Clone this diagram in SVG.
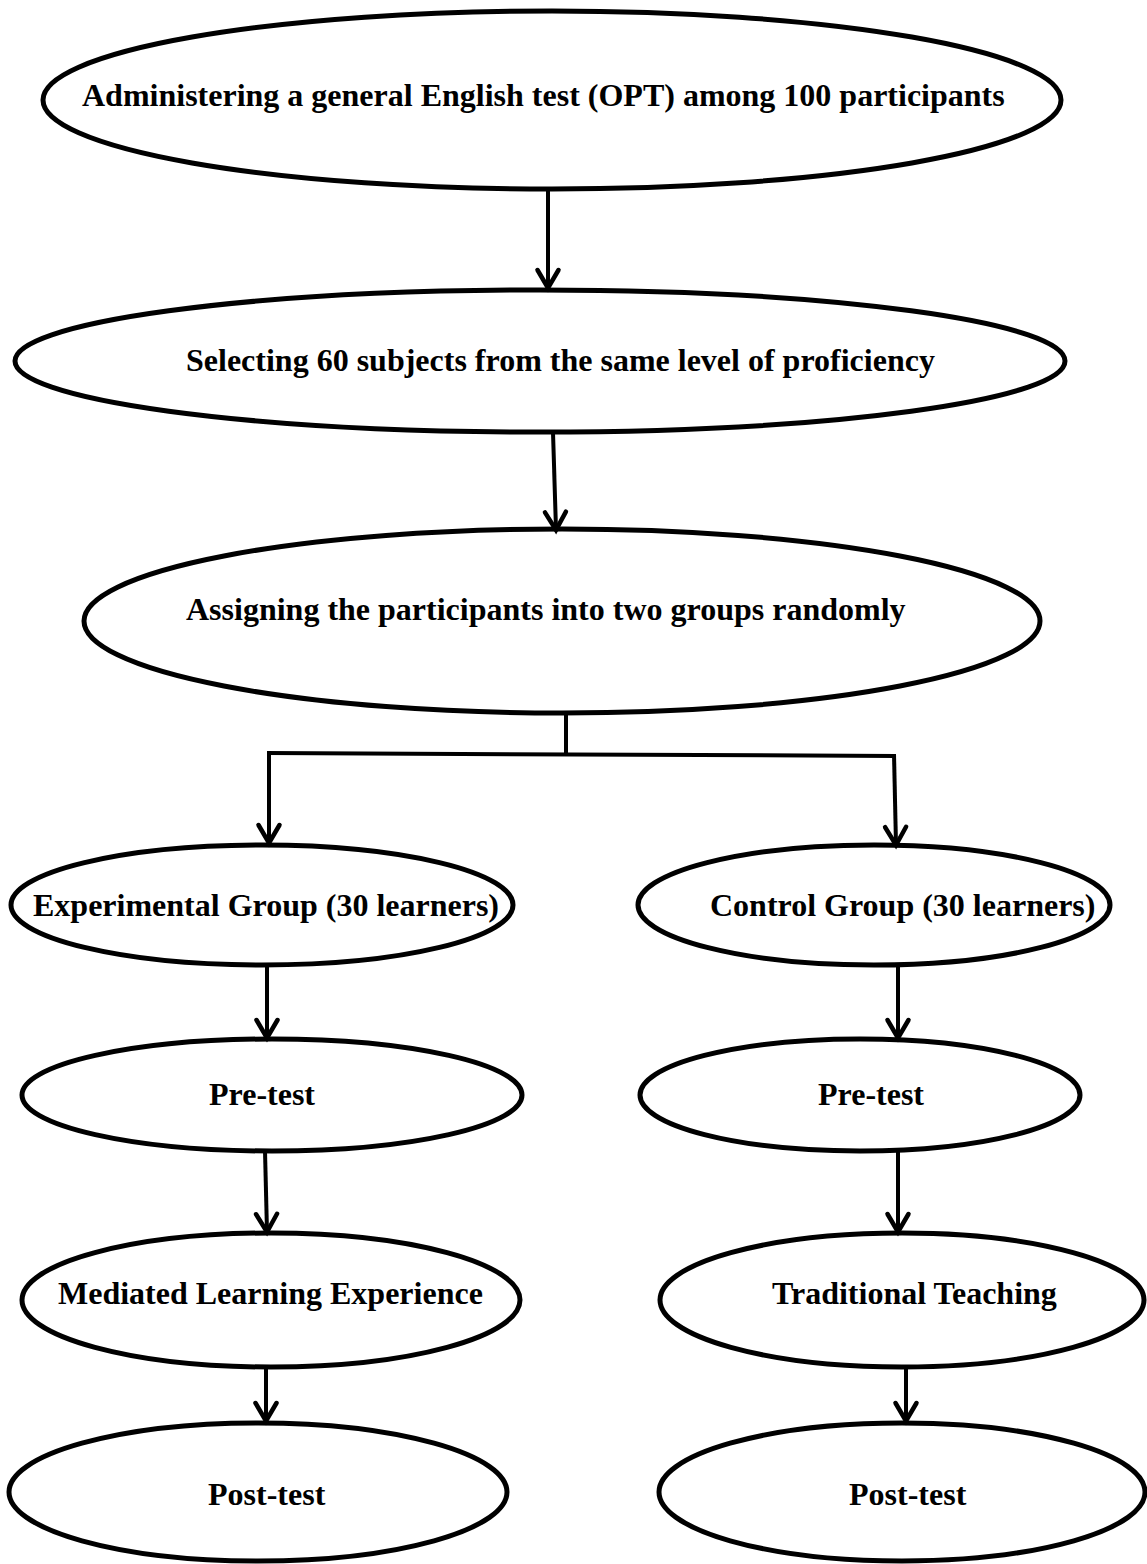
<svg xmlns="http://www.w3.org/2000/svg" width="1147" height="1564" viewBox="0 0 1147 1564">
<defs>
<style>
.n{fill:#fff;stroke:#000;stroke-width:5}
.t{font-family:"Liberation Serif","Times New Roman",serif;font-weight:bold;font-size:32px;fill:#000}
.c{fill:none;stroke:#000;stroke-width:4}
</style>
<marker id="ah" viewBox="-3 -3 28 30" refX="19" refY="11.5" markerWidth="28" markerHeight="30" markerUnits="userSpaceOnUse" orient="auto">
<path d="M1,1 L19,11.5 L1,22" fill="none" stroke="#000" stroke-width="4.5" stroke-linecap="round" stroke-linejoin="miter"/>
</marker>
</defs>
<rect width="1147" height="1564" fill="#fff"/>
<g id="n1"><ellipse class="n" cx="552" cy="100" rx="509" ry="89"/><text class="t" x="82" y="106">Administering a general English test (OPT) among 100 participants</text></g>
<g id="n2"><ellipse class="n" cx="540" cy="361" rx="525" ry="71"/><text class="t" x="186" y="371">Selecting 60 subjects from the same level of proficiency</text></g>
<g id="n3"><ellipse class="n" cx="562" cy="621" rx="478" ry="92"/><text class="t" x="186" y="620">Assigning the participants into two groups randomly</text></g>
<g id="n4"><ellipse class="n" cx="262" cy="905" rx="251" ry="60"/><text class="t" x="33" y="916">Experimental Group (30 learners)</text></g>
<g id="n5"><ellipse class="n" cx="874" cy="905" rx="236" ry="60"/><text class="t" x="710" y="916">Control Group (30 learners)</text></g>
<g id="n6"><ellipse class="n" cx="272" cy="1095" rx="250" ry="56"/><text class="t" x="209" y="1105">Pre-test</text></g>
<g id="n7"><ellipse class="n" cx="860" cy="1095" rx="220" ry="56"/><text class="t" x="818" y="1105">Pre-test</text></g>
<g id="n8"><ellipse class="n" cx="271" cy="1300" rx="249" ry="67"/><text class="t" x="58" y="1304">Mediated Learning Experience</text></g>
<g id="n9"><ellipse class="n" cx="902" cy="1300" rx="242" ry="67"/><text class="t" x="772" y="1304">Traditional Teaching</text></g>
<g id="n10"><ellipse class="n" cx="258" cy="1492" rx="249" ry="69"/><text class="t" x="208" y="1505">Post-test</text></g>
<g id="n11"><ellipse class="n" cx="902" cy="1492" rx="243" ry="69"/><text class="t" x="849" y="1505">Post-test</text></g>
<g id="connectors">
<path class="c" d="M548,190 L548,288" marker-end="url(#ah)"/>
<path class="c" d="M553,432 L556,530" marker-end="url(#ah)"/>
<path class="c" d="M566,713 L566,753"/>
<path class="c" d="M267,753 L896,756"/>
<path class="c" d="M269,751 L269,843" marker-end="url(#ah)"/>
<path class="c" d="M894,754 L896,845" marker-end="url(#ah)"/>
<path class="c" d="M267,965 L267,1038" marker-end="url(#ah)"/>
<path class="c" d="M898,965 L898,1038" marker-end="url(#ah)"/>
<path class="c" d="M265,1151 L267,1232" marker-end="url(#ah)"/>
<path class="c" d="M898,1151 L898,1232" marker-end="url(#ah)"/>
<path class="c" d="M266,1367 L266,1421" marker-end="url(#ah)"/>
<path class="c" d="M906,1367 L906,1421" marker-end="url(#ah)"/>
</g>
</svg>
